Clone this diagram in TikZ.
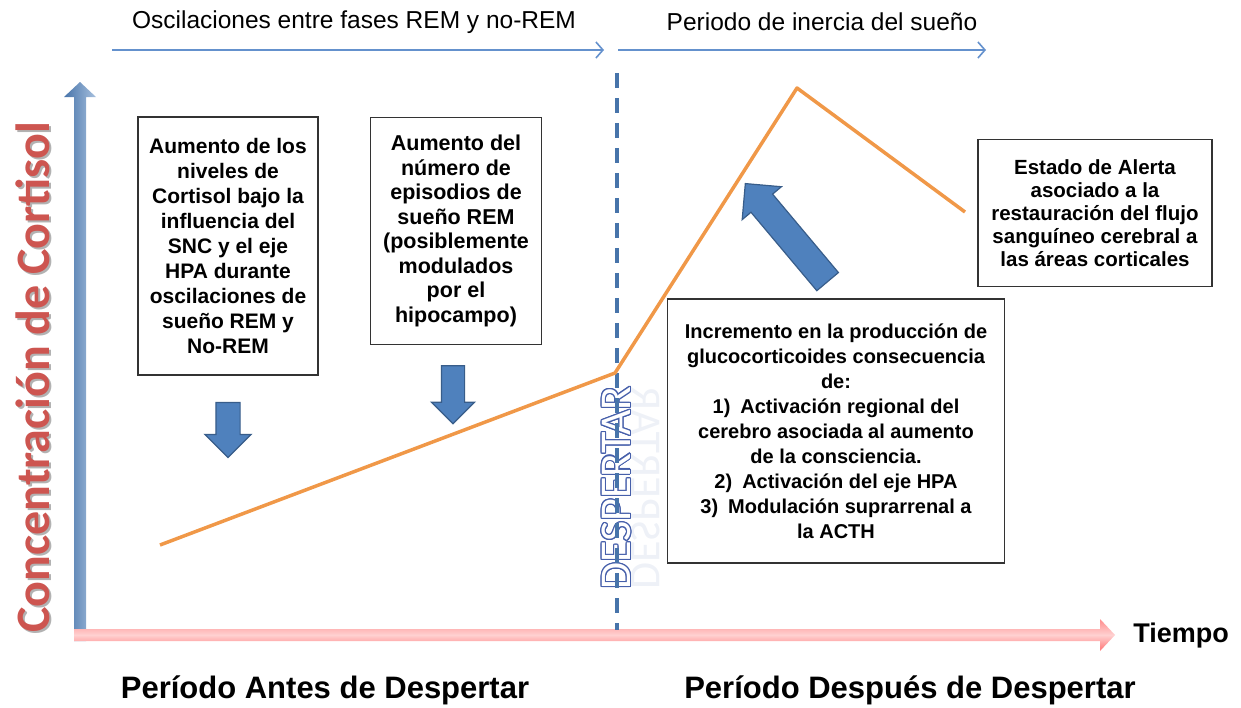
\documentclass[tikz,border=0pt]{standalone}
\usepackage{fontspec}
\setmainfont{Liberation Sans}
\newfontfamily\calibrifont{Carlito}
\usepackage{contour}
\contourlength{1.2pt}
\usetikzlibrary{arrows.meta,shapes.arrows}

\definecolor{officeblue}{RGB}{79,129,189}
\definecolor{officeborder}{RGB}{56,93,138}
\definecolor{curveorange}{RGB}{240,152,72}
\definecolor{phaseblue}{RGB}{100,145,205}
\definecolor{cortisolred}{RGB}{205,85,80}
\definecolor{despblue}{RGB}{70,95,170}

\begin{document}
\begin{tikzpicture}[x=1pt,y=-1pt,
  infobox/.style={draw=black!80, line width=1.3pt, fill=white, align=center, inner sep=0pt},
  blockarrow/.style={single arrow, draw=officeborder, line width=1.2pt, fill=officeblue,
    single arrow tip angle=90, inner xsep=0pt, inner ysep=#1},
  phasearrow/.style={draw=phaseblue, line width=1.6pt, -{Straight Barb[length=7pt,width=16pt]}},
  cortisolcurve/.style={draw=curveorange, line width=3.5pt, line join=round},
  wakeline/.style={draw=officeblue!90!black, line width=4pt, dash pattern=on 15pt off 10pt}]
\useasboundingbox (0,0) rectangle (1241,707);

% ejes
\shade[left color=officeblue!90!black, right color=officeblue!50!white]
  (74,641) -- (74,97) -- (64,97) -- (80,82) -- (96,97) -- (86,97) -- (86,641) -- cycle;
\shade[top color=red!45!white, bottom color=red!55!white, middle color=red!18!white]
  (74,629) -- (1100,629) -- (1100,619) -- (1115,635) -- (1100,651) -- (1100,641) -- (74,641) -- cycle;

\node[rotate=90, text=black!30, font=\calibrifont\bfseries\fontsize{48}{48}\selectfont] at (35,379) {Concentración de Cortisol};
\node[rotate=90, text=cortisolred, font=\calibrifont\bfseries\fontsize{48}{48}\selectfont] (ylabel) at (33,377) {Concentración de Cortisol};
\node[font=\bfseries\fontsize{27}{27}\selectfont] (tiempo) at (1181,636) {Tiempo};

% fases
\node[font=\fontsize{24.5}{28}\selectfont] (osctext) at (354,22) {Oscilaciones entre fases REM y no-REM};
\node[font=\fontsize{24.5}{28}\selectfont] (inertext) at (822,22) {Periodo de inercia del sueño};
\coordinate (osc a) at (112,50);
\coordinate (osc b) at (604,50);
\coordinate (iner a) at (618,50);
\coordinate (iner b) at (986,50);
\draw[phasearrow] (osc a) -- (osc b);
\draw[phasearrow] (iner a) -- (iner b);

% despertar
\node[rotate=90, yscale=-1, text=despblue!9, font=\calibrifont\fontsize{44}{44}\selectfont] at (646,488) {DESPERTAR};
\node[rotate=90, font=\calibrifont\fontsize{44}{44}\selectfont] (desp) at (617,488) {\contour{despblue}{\textcolor{white}{DESPERTAR}}};
\coordinate (wake top) at (617,73);
\coordinate (wake bottom) at (617,630);
\draw[wakeline] (wake top) -- (wake bottom);

% cortisol
\coordinate (c1) at (160,545);
\coordinate (c2) at (615,373);
\coordinate (c3) at (797,88);
\coordinate (c4) at (965,212);
\draw[cortisolcurve] (c1) -- (c2) -- (c3) -- (c4);

% cuadros
\node[infobox, minimum width=180pt, minimum height=258pt, font=\bfseries\fontsize{21}{25}\selectfont] (niveles) at (228,246)
  {Aumento de los\\niveles de\\Cortisol bajo la\\influencia del\\SNC y el eje\\HPA durante\\oscilaciones de\\sueño REM y\\No-REM};
\node[infobox, minimum width=171pt, minimum height=227pt, font=\bfseries\fontsize{21.5}{24.5}\selectfont] (episodios) at (456,231)
  {Aumento del\\número de\\episodios de\\sueño REM\\(posiblemente\\modulados\\por el\\hipocampo)};
\node[infobox, minimum width=337pt, minimum height=264pt, font=\bfseries\fontsize{20}{25}\selectfont] (incremento) at (836,431)
  {Incremento en la producción de\\glucocorticoides consecuencia\\de:\\1)\enspace Activación regional del\\cerebro asociada al aumento\\de la consciencia.\\2)\enspace Activación del eje HPA\\3)\enspace Modulación suprarrenal a\\la ACTH};
\node[infobox, minimum width=234pt, minimum height=147pt, font=\bfseries\fontsize{20.5}{23}\selectfont] (alerta) at (1095,213)
  {Estado de Alerta\\asociado a la\\restauración del flujo\\sanguíneo cerebral a\\las áreas corticales};

% flechas
\node[blockarrow=11.5pt, single arrow head extend=11pt, minimum height=55pt, rotate=-90] (flecha1) at (228,424) {};
\node[blockarrow=11pt, single arrow head extend=10pt, minimum height=58pt, rotate=-90] (flecha2) at (453,389) {};
\node[blockarrow=13.5pt, single arrow head extend=11.5pt, minimum height=128pt, rotate=130] (flecha3) at (791,238) {};

% periodos
\node[font=\bfseries\fontsize{31}{31}\selectfont] (antes) at (325,690) {Período Antes de Despertar};
\node[font=\bfseries\fontsize{31}{31}\selectfont] (despues) at (910,690) {Período Después de Despertar};
\end{tikzpicture}
\end{document}
